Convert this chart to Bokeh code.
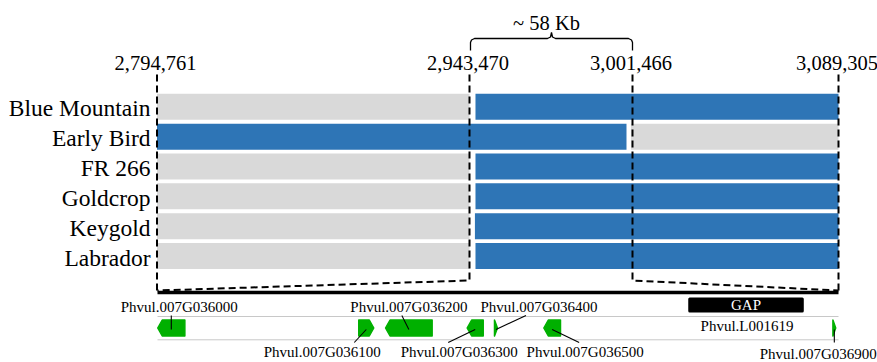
import numpy as np
from bokeh.plotting import figure
from bokeh.models import Range1d
from bokeh.core.properties import value
from bokeh.embed import file_html
from bokeh.resources import INLINE

# ---- data -------------------------------------------------------------
# chromosome 7 coordinates (bp) marked above the overview panel
breakpoints = [2794761, 2943470, 3001466, 3089305]
breakpoint_labels = ["2,794,761", "2,943,470", "3,001,466", "3,089,305"]
region_label = "~ 58 Kb"

varieties = ["Blue Mountain", "Early Bird", "FR 266", "Goldcrop", "Keygold", "Labrador"]

# haplotype blocks: variety index, start, end (bp), shared haplotype (1) or not (0)
block_row = [0, 0, 1, 1, 2, 2, 3, 3, 4, 4, 5, 5]
block_start = [2794761, 2945600, 2794761, 3000900, 2794761, 2945600,
               2794761, 2945600, 2794761, 2945400, 2794761, 2945600]
block_end = [2943470, 3089305, 2999330, 3089305, 2943470, 3089305,
             2943470, 3089305, 2943470, 3089305, 2943470, 3089305]
block_shared = [0, 1, 1, 0, 0, 1, 0, 1, 0, 1, 0, 1]

# gene models inside the ~58 Kb interval
gene_ids = ["Phvul.007G036000", "Phvul.007G036100", "Phvul.007G036200",
            "Phvul.007G036300", "Phvul.007G036400", "Phvul.007G036500",
            "Phvul.007G036900"]
gene_start = [2943490, 2960610, 2962890, 2969840, 2972170, 2976370, 3000990]
gene_end = [2945800, 2961890, 2966860, 2971210, 2972420, 2977790, 3001230]
gene_strand = [-1, 1, -1, -1, 1, -1, 1]

# assembly gap inside the interval
gap_label = "GAP"
gap_id = "Phvul.L001619"
gap_start = 2988670
gap_end = 2998510

# ---- layout -----------------------------------------------------------
W, H = 877, 362
SERIF = value("Liberation Serif")
BLUE, GREY, GREEN = "#2E75B6", "#D9D9D9", "#00B000"

# overview panel: the marked coordinates sit on fixed columns of the panel
overview_cols = [156.5, 469.0, 632.0, 838.0]
row_y0, row_pitch, row_h = 106.3, 29.85, 26.0
# detail panel: the 58 Kb interval is stretched across the full panel width
detail_cols = [157.0, 838.0]
gene_mid_y, gene_h = 327.5, 16.0
head = 4.5


def to_overview(bp):
    return np.interp(bp, breakpoints, overview_cols)


def to_detail(bp):
    return np.interp(bp, [breakpoints[1], breakpoints[2]], detail_cols)


p = figure(width=W, height=H, x_range=Range1d(0, W), y_range=Range1d(H, 0),
           output_backend="svg", toolbar_location=None, min_border=0,
           x_axis_location=None, y_axis_location=None)
p.grid.visible = False
p.outline_line_color = None
p.background_fill_color = "white"

# haplotype bars
bx0 = to_overview(np.array(block_start))
bx1 = to_overview(np.array(block_end))
by = row_y0 + np.array(block_row) * row_pitch
p.quad(left=bx0, right=bx1, top=by - row_h / 2, bottom=by + row_h / 2,
       fill_color=[BLUE if s else GREY for s in block_shared], line_color=None)

# variety names
vy = row_y0 + np.arange(len(varieties)) * row_pitch
p.text(x=[150] * len(varieties), y=vy + 1.5, text=varieties, text_font=SERIF,
       text_font_size="23.5px", text_align="right", text_baseline="middle",
       text_color="black")

# coordinate labels and dashed guides
bpx = to_overview(np.array(breakpoints))
p.text(x=bpx - 1.5, y=[62.5] * 4, text=breakpoint_labels, text_font=SERIF,
       text_font_size="20.5px", text_align="center", text_baseline="middle",
       text_color="black")
outer_bottom, inner_bottom = 290.0, 280.0
guide_x = [[bpx[0], bpx[0]], [bpx[1], bpx[1], detail_cols[0]],
           [bpx[2], bpx[2], detail_cols[1]], [bpx[3], bpx[3]]]
guide_y = [[74, outer_bottom], [74, inner_bottom, outer_bottom],
           [74, inner_bottom, outer_bottom], [74, outer_bottom]]
p.multi_line(xs=guide_x, ys=guide_y, line_color="black", line_width=2,
             line_dash="7 4")

# brace over the ~58 Kb interval
xl, xr = bpx[1] + 1, bpx[2]
xm = (xl + xr) / 2
brace_x = [xl, xl, xl + 1, xl + 4, xm - 4, xm - 1, xm, xm + 1, xm + 4,
           xr - 4, xr - 1, xr, xr]
brace_y = [50, 42, 39.5, 38, 38, 36.5, 32, 36.5, 38, 38, 39.5, 42, 50]
p.line(brace_x, brace_y, line_color="black", line_width=1.3)
p.text(x=[xm - 5], y=[22], text=[region_label], text_font=SERIF,
       text_font_size="20.5px", text_align="center", text_baseline="middle",
       text_color="black")

# chromosome line for the detail panel
p.line(detail_cols, [292, 292], line_color="black", line_width=3.5)

# gene track borders
for ty in (316, 339.3):
    p.line(detail_cols, [ty, ty], line_color="#C8C8C8", line_width=1)

# assembly gap
gx0, gx1 = to_detail(gap_start), to_detail(gap_end)
p.quad(left=[gx0 + 1.5], right=[gx1 - 1.5], top=[298.5], bottom=[310.5],
       fill_color="black", line_color="black", line_width=3, line_join="round")
p.text(x=[(gx0 + gx1) / 2], y=[304.5], text=[gap_label], text_font=SERIF,
       text_font_size="15px", text_align="center", text_baseline="middle",
       text_color="white")
p.text(x=[(gx0 + gx1) / 2 + 1], y=[325.5], text=[gap_id], text_font=SERIF,
       text_font_size="15px", text_align="center", text_baseline="middle",
       text_color="black")

# gene models as arrows pointing along their strand
gx_start = to_detail(np.array(gene_start))
gx_end = to_detail(np.array(gene_end))
top, bot = gene_mid_y - gene_h / 2, gene_mid_y + gene_h / 2
shapes_x, shapes_y = [], []
for a, b, s in zip(gx_start, gx_end, gene_strand):
    h = min(head, b - a)
    if s > 0:
        shapes_x.append([a, b - h, b, b - h, a])
    else:
        shapes_x.append([b, a + h, a, a + h, b])
    shapes_y.append([top, top, gene_mid_y, bot, bot])
p.patches(xs=shapes_x, ys=shapes_y, fill_color=GREEN, line_color=GREEN,
          line_width=1.5, line_join="round")

# gene labels with leader lines
label_dx = [8, -44, 0, -16, 43, 33, -16]
label_y = [306.5, 351, 306.5, 351, 306.5, 351, 353.5]
leader_dx = [0, -12, -7, -27, 30, 27, 0]
gene_cx = (gx_start + gx_end) / 2
lead_xs, lead_ys = [], []
for cx, ly, dx in zip(gene_cx, label_y, leader_dx):
    tail_y = 315 if ly < gene_mid_y else 342
    lead_xs.append([cx, cx + dx])
    lead_ys.append([gene_mid_y + 1.5, tail_y])
p.multi_line(xs=lead_xs, ys=lead_ys, line_color="black", line_width=1.1)
p.text(x=gene_cx + np.array(label_dx), y=label_y, text=gene_ids,
       text_font=SERIF, text_font_size="15px", text_align="center",
       text_baseline="middle", text_color="black")

open("out.html", "w").write(file_html(p, INLINE))
